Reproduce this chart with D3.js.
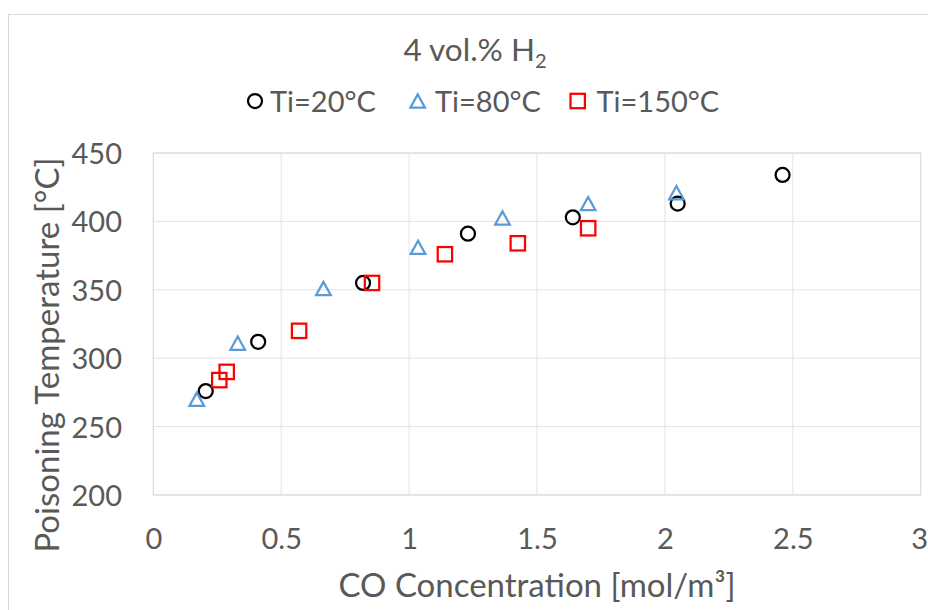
<!DOCTYPE html>
<html>
<head>
<meta charset="utf-8">
<script src="https://cdn.jsdelivr.net/npm/d3@7"></script>
<style>
  html, body { margin: 0; padding: 0; background: #fff; }
  svg { display: block; }
  text { font-family: Lato, "Open Sans", sans-serif; fill: #595959; }
</style>
</head>
<body>
<svg id="chart" width="928" height="610"></svg>
<script>
// ---- data ----
const title = "4 vol.% H";
const titleSub = "2";
const xTitle = "CO Concentration [mol/m³]";
const yTitle = "Poisoning Temperature [°C]";
const seriesNames = ["Ti=20°C", "Ti=80°C", "Ti=150°C"];
const xTicks = [0, 0.5, 1, 1.5, 2, 2.5, 3];
const yTicks = [200, 250, 300, 350, 400, 450];

const x20 = [0.205, 0.41, 0.82, 1.23, 1.64, 2.05, 2.46];
const y20 = [276, 312, 355, 391, 403, 413, 434];
const x80 = [0.17, 0.33, 0.665, 1.035, 1.365, 1.70, 2.045];
const y80 = [270, 311, 351, 381, 402.5, 413, 421];
const x150 = [0.258, 0.287, 0.57, 0.855, 1.14, 1.425, 1.70];
const y150 = [284, 290, 320, 355, 376, 384, 395];

// ---- layout ----
const svg = d3.select("#chart");
const plot = { left: 153.3, right: 920.7, top: 153, bottom: 495 };
const tickFont = 29;
const titleFont = 33;
const colors = ["#000000", "#5b9bd5", "#ff0000"];

const x = d3.scaleLinear().domain([0, 3]).range([plot.left, plot.right]);
const y = d3.scaleLinear().domain([200, 450]).range([plot.bottom, plot.top]);

// chart area border
svg.append("rect")
  .attr("x", 8.5).attr("y", 14.5)
  .attr("width", 940).attr("height", 620)
  .attr("fill", "#fff").attr("stroke", "#d9d9d9").attr("stroke-width", 1);

// gridlines
const grid = svg.append("g");
grid.selectAll("line.v").data(xTicks).join("line")
  .attr("x1", d => x(d)).attr("x2", d => x(d))
  .attr("y1", plot.top).attr("y2", plot.bottom)
  .attr("stroke", "#e3e3e3").attr("stroke-width", 1);
grid.selectAll("line.h").data(yTicks).join("line")
  .attr("y1", d => y(d)).attr("y2", d => y(d))
  .attr("x1", plot.left).attr("x2", plot.right)
  .attr("stroke", "#e3e3e3").attr("stroke-width", 1);
svg.append("rect")
  .attr("x", plot.left).attr("y", plot.top)
  .attr("width", plot.right - plot.left).attr("height", plot.bottom - plot.top)
  .attr("fill", "none").attr("stroke", "#d9d9d9").attr("stroke-width", 1);

// axes (labels only)
const xAxis = d3.axisBottom(x).tickValues(xTicks).tickSize(0).tickPadding(0)
  .tickFormat(d => String(d));
const gx = svg.append("g").attr("transform", `translate(0,${plot.bottom})`).call(xAxis);
gx.select(".domain").remove();
gx.selectAll("text")
  .attr("dy", null).attr("y", 54)
  .attr("x", (d, i) => i === xTicks.length - 1 ? -1.5 : 0)
  .style("font-size", tickFont + "px").style("font-family", "Lato").attr("fill", "#595959");

const yAxis = d3.axisLeft(y).tickValues(yTicks).tickSize(0).tickPadding(0)
  .tickFormat(d => String(d));
const gy = svg.append("g").attr("transform", `translate(${122},0)`).call(yAxis);
gy.select(".domain").remove();
gy.selectAll("text")
  .attr("x", 0).attr("dy", "0.36em")
  .style("font-size", tickFont + "px").style("font-family", "Lato").attr("fill", "#595959");

// axis titles
svg.append("text")
  .attr("x", (plot.left + plot.right) / 2).attr("y", 597)
  .attr("text-anchor", "middle").style("font-size", titleFont + "px")
  .text(xTitle);
svg.append("text")
  .attr("transform", `translate(59,355) rotate(-90)`)
  .attr("text-anchor", "middle").style("font-size", titleFont + "px")
  .text(yTitle);

// chart title
const t = svg.append("text")
  .attr("x", 475).attr("y", 60.5)
  .attr("text-anchor", "middle").style("font-size", "31.5px");
t.append("tspan").text(title);
t.append("tspan").attr("dy", 7).style("font-size", "20px").text(titleSub);

// marker shapes
const markerStroke = 2.25;
function circlePath(g) { return g.append("circle").attr("r", 7); }
function triPath(g) { return g.append("path").attr("d", "M0,-6.6 L7.3,6.6 L-7.3,6.6 Z"); }
function sqPath(g) { return g.append("rect").attr("x", -7.2).attr("y", -7.2).attr("width", 14.4).attr("height", 14.4); }
const shapes = [circlePath, triPath, sqPath];

const series = [
  { xs: x20, ys: y20 },
  { xs: x80, ys: y80 },
  { xs: x150, ys: y150 }
];

series.forEach((s, i) => {
  const pts = s.xs.map((v, k) => ({ x: v, y: s.ys[k] }));
  const g = svg.append("g");
  g.selectAll("g").data(pts).join("g")
    .attr("transform", p => `translate(${x(p.x)},${y(p.y)})`)
    .each(function () {
      shapes[i](d3.select(this)).attr("fill", "none").attr("stroke", colors[i]).attr("stroke-width", markerStroke);
    });
});

// legend
const legendMarkerX = [255, 417.7, 577.7];
const legendTextX = [270, 435, 596.5];
const legendY = 101;
seriesNames.forEach((name, i) => {
  const m = svg.append("g").attr("transform", `translate(${legendMarkerX[i]},${legendY})`);
  shapes[i](m).attr("fill", "none").attr("stroke", colors[i]).attr("stroke-width", markerStroke);
  svg.append("text")
    .attr("x", legendTextX[i]).attr("y", legendY + 10.5)
    .style("font-size", tickFont + "px").text(name);
});
</script>
</body>
</html>
